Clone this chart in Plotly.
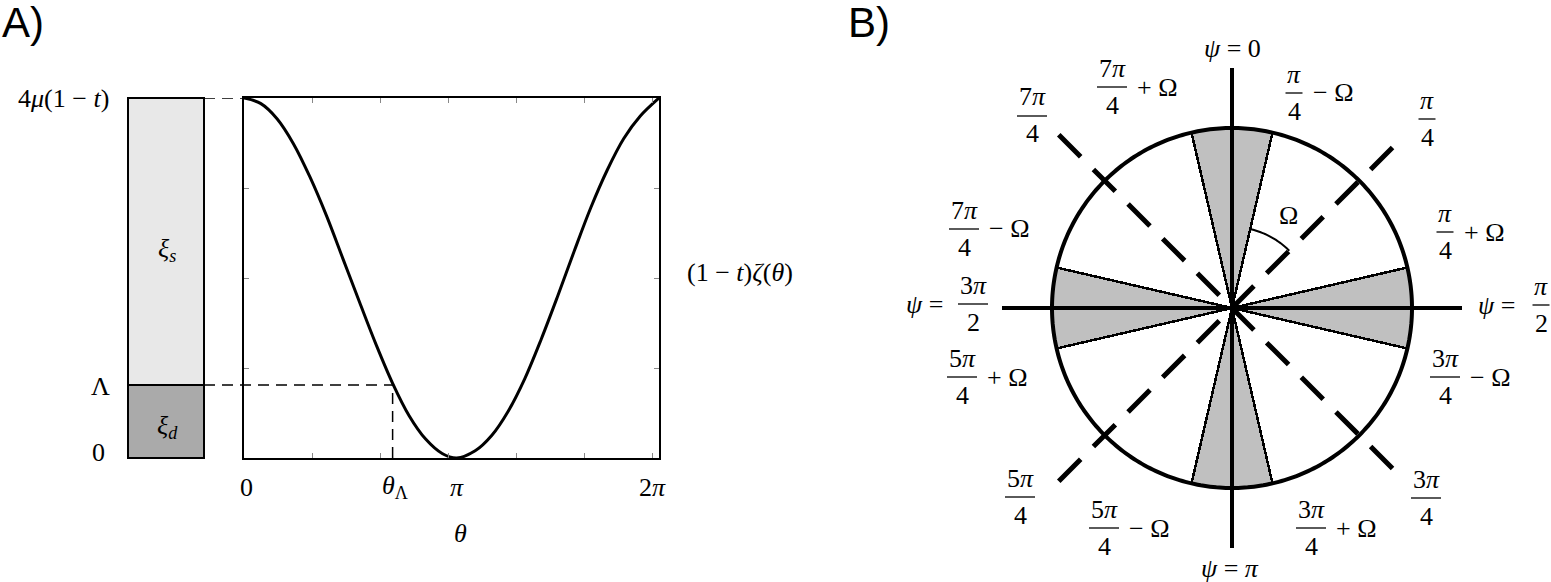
import numpy as np
import plotly.graph_objects as go

W, H = 1551, 582

# ---- panel A data ----
theta_pts = [0.0, 0.25, 0.5, 0.75, 1.0, 1.25, 1.5, 1.75, 2.0, 2.25, 2.5, 2.75, 3.0,
             3.22, 3.5, 3.75, 4.0, 4.25, 4.5, 4.75, 5.0, 5.25, 5.5, 5.75, 6.0, 6.283]
zeta_pts = [4.0, 3.94, 3.77, 3.49, 3.12, 2.69, 2.21, 1.73, 1.26, 0.83, 0.47, 0.21, 0.05,
            0.0, 0.08, 0.25, 0.52, 0.88, 1.32, 1.80, 2.30, 2.78, 3.20, 3.55, 3.80, 4.0]
TOP = 4.0            # 4mu(1-t)
LAMBDA = 0.81
THETA_LAMBDA = 2.25
xi_d = LAMBDA
xi_s = TOP - LAMBDA
x_ticks = [1.03, 2.06, 3.09, 4.12, 5.15, 6.18]
y_ticks = [1, 2, 3]
x_label_vals = [0.04, THETA_LAMBDA + 0.03, 3.22, 6.18]
x_label_text = ["0", "<i>θ</i><sub>Λ</sub>", "<i>π</i>", "2<i>π</i>"]

# ---- panel B data ----
R = 180                       # circle radius
OMEGA = 32                    # degrees
wedge_centres = [0, 90, 180, 270]
solid_dirs = [0, 90]
solid_len = [240, 230]
dashed_dirs = [45, 135]
dashed_len = 245
ARC_R = 81

FONT = "Liberation Serif"
FS = 26

annotations = []
shapes = []


def px(x, y):
    return x / W, 1 - y / H


def text(x, y, s, size=FS, xanchor="center", family=FONT):
    xp, yp = px(x, y)
    annotations.append(dict(x=xp, y=yp, xref="paper", yref="paper", text=s,
                            showarrow=False, xanchor=xanchor, yanchor="middle",
                            font=dict(family=family, size=size, color="black")))


def frac(cx, y, num, den, tail=None, width=30):
    text(cx, y - 19, num)
    text(cx, y + 18, den)
    x0, y0 = px(cx - width / 2, y)
    x1, _ = px(cx + width / 2, y)
    shapes.append(dict(type="line", xref="paper", yref="paper", x0=x0, x1=x1,
                       y0=y0, y1=y0, line=dict(color="black", width=1.3)))
    if tail:
        text(cx + width / 2 + 8, y, tail, xanchor="left")


fig = go.Figure()

# stacked bar xi_d / xi_s
fig.add_trace(go.Bar(x=[0], y=[xi_d], width=1, xaxis="x", yaxis="y",
                     marker=dict(color="#aaaaaa", line=dict(color="black", width=2))))
fig.add_trace(go.Bar(x=[0], y=[xi_s], width=1, xaxis="x", yaxis="y",
                     marker=dict(color="#e8e8e8", line=dict(color="black", width=2))))

# (1-t)zeta(theta)
fig.add_trace(go.Scatter(x=theta_pts, y=zeta_pts, mode="lines", xaxis="x2", yaxis="y2",
                         line=dict(color="black", width=3, shape="spline", smoothing=1.0),
                         hoverinfo="skip"))

# ---- panel B (polar) ----
fig.add_trace(go.Barpolar(r=[R] * len(wedge_centres), theta=wedge_centres,
                          width=[2 * (45 - OMEGA)] * len(wedge_centres),
                          marker=dict(color="#c0c0c0", line=dict(color="black", width=2.5)),
                          subplot="polar"))
circ = np.linspace(0, 360, 361)
fig.add_trace(go.Scatterpolar(r=[R] * len(circ), theta=circ, mode="lines",
                              line=dict(color="black", width=4), subplot="polar"))
for d, ln in zip(solid_dirs, solid_len):
    fig.add_trace(go.Scatterpolar(r=[ln, 0, ln], theta=[d, d, d + 180], mode="lines",
                                  line=dict(color="black", width=4), subplot="polar"))
for d in dashed_dirs:
    fig.add_trace(go.Scatterpolar(r=[dashed_len, 0, dashed_len], theta=[d + 180, d, d],
                                  mode="lines", subplot="polar",
                                  line=dict(color="black", width=5, dash="31px,18px")))
arc = np.linspace(45 - OMEGA, 45, 30)
fig.add_trace(go.Scatterpolar(r=[ARC_R] * len(arc), theta=arc, mode="lines",
                              line=dict(color="black", width=2), subplot="polar"))

# ---- dashed guides in panel A ----
BAR_DOM = [125.7 / W, 206.3 / W]
CURVE_DOM = [244 / W, 659 / W]
Y_DOM = [1 - 458 / H, 1 - 98 / H]
BAR_Y_DOM = [1 - 460.7 / H, 1 - 95.3 / H]
guide = dict(color="black", width=1.5, dash="11px,7px")
bar_right = 204 / W
theta_lambda_paper = CURVE_DOM[0] + THETA_LAMBDA / (2 * np.pi) * (CURVE_DOM[1] - CURVE_DOM[0])
shapes.append(dict(type="line", xref="paper", yref="y2", x0=bar_right, x1=CURVE_DOM[0],
                   y0=TOP, y1=TOP, line=guide))
shapes.append(dict(type="line", xref="paper", yref="y2", x0=bar_right, x1=theta_lambda_paper,
                   y0=LAMBDA, y1=LAMBDA, line=guide))
shapes.append(dict(type="line", xref="x2", yref="y2", x0=THETA_LAMBDA, x1=THETA_LAMBDA,
                   y0=0, y1=LAMBDA, line=guide))

# ---- panel A text ----
text(23, 23, "A)", size=42, family="Liberation Sans")
text(111, 98, "4<i>μ</i>(1\u00a0−\u00a0<i>t</i>)", xanchor="right")
text(100, 386, "Λ")
text(99, 452, "0")
text(167, 250, "<i>ξ</i><sub><i>s</i></sub>")
text(167, 427, "<i>ξ</i><sub><i>d</i></sub>")
text(740, 272, "(1\u00a0−\u00a0<i>t</i>)<i>ζ</i>(<i>θ</i>)")
for v, s in zip(x_label_vals, x_label_text):
    annotations.append(dict(x=v, y=1 - 487 / H, xref="x2", yref="paper", text=s,
                            showarrow=False, xanchor="center", yanchor="middle",
                            font=dict(family=FONT, size=FS, color="black")))
text(460, 533, "<i>θ</i>")

# ---- panel B text ----
text(869, 23, "B)", size=42, family="Liberation Sans")
text(1232, 48, "<i>ψ</i>\u00a0=\u00a00")
text(1230, 568, "<i>ψ</i>\u00a0=\u00a0<i>π</i>")
text(1288, 215, "Ω")
frac(1112, 87, "7<i>π</i>", "4", "+\u00a0Ω")
frac(1032, 116, "7<i>π</i>", "4")
frac(964, 229, "7<i>π</i>", "4", "−\u00a0Ω")
frac(1294, 93, "<i>π</i>", "4", "−\u00a0Ω", width=17)
frac(1427, 119, "<i>π</i>", "4", width=17)
frac(1445, 232, "<i>π</i>", "4", "+\u00a0Ω", width=17)
frac(973, 304, "3<i>π</i>", "2")
text(945, 304, "<i>ψ</i>\u00a0=", xanchor="right")
frac(1541, 305, "<i>π</i>", "2", width=17)
text(1476, 305, "<i>ψ</i>\u00a0=", xanchor="left")
frac(962, 377, "5<i>π</i>", "4", "+\u00a0Ω")
frac(1445, 377, "3<i>π</i>", "4", "−\u00a0Ω")
frac(1020, 497, "5<i>π</i>", "4")
frac(1426, 498, "3<i>π</i>", "4")
frac(1104, 528, "5<i>π</i>", "4", "−\u00a0Ω")
frac(1311, 528, "3<i>π</i>", "4", "+\u00a0Ω")

axis_off = dict(visible=False, showgrid=False, zeroline=False, fixedrange=True)
curve_axis = dict(showline=True, linecolor="black", linewidth=2, mirror="allticks",
                  ticks="inside", ticklen=5, tickwidth=1, tickcolor="#888888",
                  showticklabels=False, showgrid=False, zeroline=False)

fig.update_layout(
    width=W, height=H, autosize=False,
    margin=dict(l=0, r=0, t=0, b=0),
    paper_bgcolor="white", plot_bgcolor="white",
    showlegend=False, barmode="stack", bargap=0,
    xaxis=dict(domain=BAR_DOM, range=[-0.53, 0.53], anchor="y", **axis_off),
    yaxis=dict(domain=BAR_Y_DOM, range=[-0.03, TOP + 0.03], anchor="x", **axis_off),
    xaxis2=dict(domain=CURVE_DOM, range=[0, 2 * np.pi], anchor="y2",
                tickvals=x_ticks, **curve_axis),
    yaxis2=dict(domain=Y_DOM, range=[0, TOP], anchor="x2",
                tickvals=y_ticks, **curve_axis),
    polar=dict(domain=dict(x=[982 / W, 1482 / W], y=[1 - 558 / H, 1 - 58 / H]),
               bgcolor="white", bargap=0,
               radialaxis=dict(visible=False, range=[0, 250]),
               angularaxis=dict(visible=False, direction="clockwise", rotation=90)),
    annotations=annotations,
    shapes=shapes,
)

# page body has a default margin; drop it so the figure sits at the window origin
fig.write_html("out.html", config={"displayModeBar": False},
               post_script="document.body.style.margin='0';")
